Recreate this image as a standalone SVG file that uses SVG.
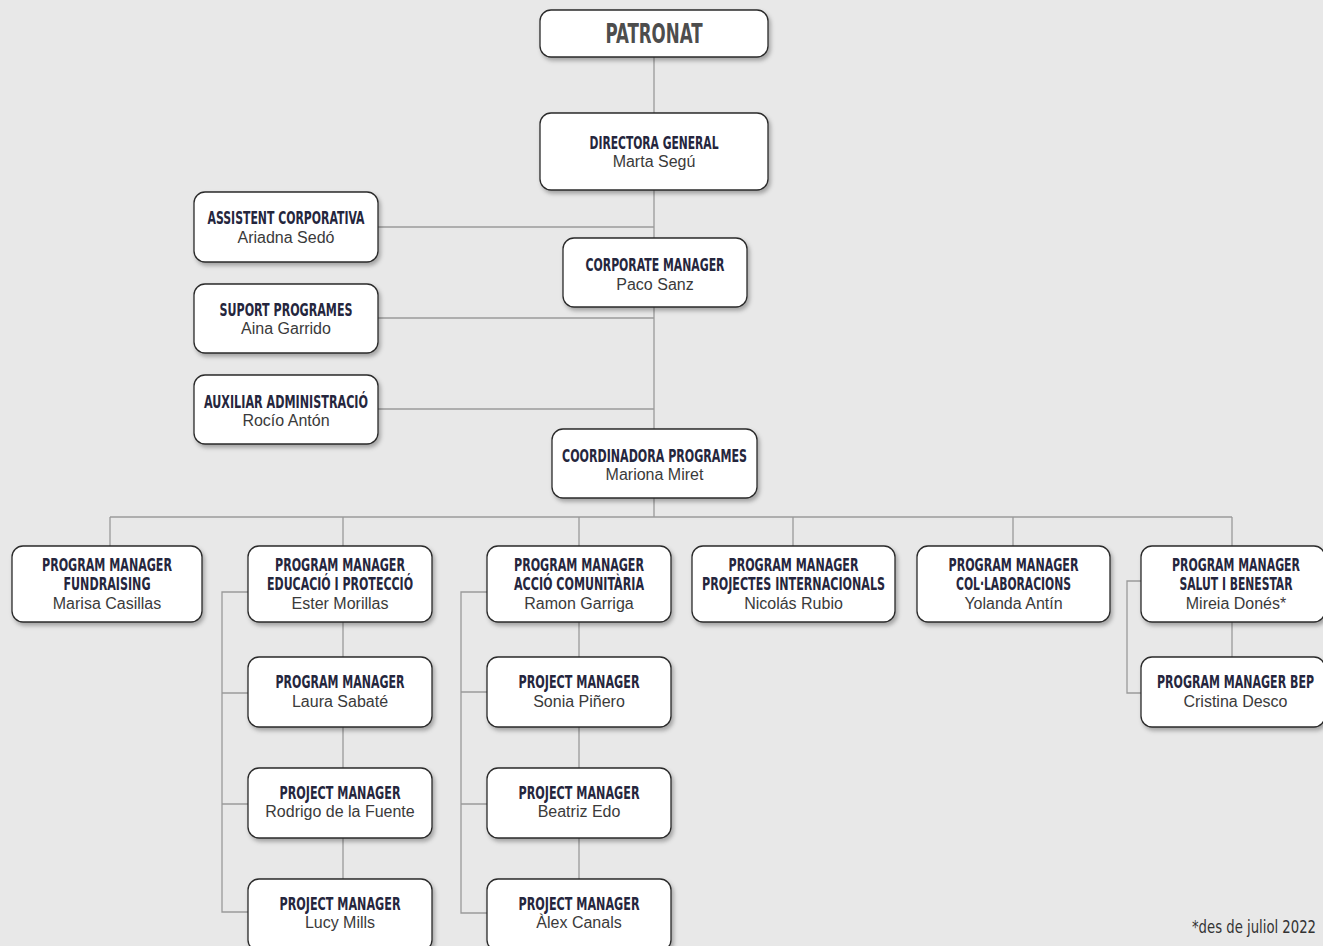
<svg xmlns="http://www.w3.org/2000/svg" width="1323" height="946" viewBox="0 0 1323 946">
<defs>
<filter id="sh" x="-10%" y="-10%" width="125%" height="140%">
<feDropShadow dx="2" dy="3" stdDeviation="2.2" flood-color="#000" flood-opacity="0.3"/>
</filter>
<style>
.box{fill:#fff;stroke:#2a2a2a;stroke-width:1.3;filter:url(#sh)}
.h{font-family:'DejaVu Sans Condensed','DejaVu Sans',sans-serif;font-stretch:condensed;font-weight:bold;font-size:18px;fill:#25263d;text-anchor:middle}
.n{font-family:'Liberation Sans',Arial,sans-serif;font-size:16px;fill:#3a3a3a;text-anchor:middle}
.ln{fill:none;stroke:#9a9a9a;stroke-width:1.3}
.ft{font-family:'DejaVu Sans Condensed','DejaVu Sans',sans-serif;font-stretch:condensed;font-size:18px;fill:#333;text-anchor:end}
</style>
</defs>
<rect width="1323" height="946" fill="#e8e8e8"/>
<g id="connectors" class="ln">
<path d="M654 57V113M654 190V517"/>
<path d="M378 227H654M378 318H654M378 409H654"/>
<path d="M110 517H1232M110 517V546M343 517V546M579 517V546M793 517V546M1013 517V546M1232 517V546"/>
<path d="M343 622V879M579 622V879M1232 622V657"/>
<path d="M248 592H222V912H248M222 693H248M222 804H248"/>
<path d="M487 592H461V913H487M461 692H487M461 804H487"/>
<path d="M1141 581H1127V693H1141"/>
</g>
<g id="patronat"><rect class="box" x="540" y="10" width="228" height="47" rx="11"/><text class="h" x="654" y="43" style="font-size:27px;fill:#4d4d4d" textLength="97" lengthAdjust="spacingAndGlyphs">PATRONAT</text></g>
<g id="directora"><rect class="box" x="540" y="113" width="228" height="77" rx="11"/><text class="h" x="654" y="149" textLength="129" lengthAdjust="spacingAndGlyphs">DIRECTORA GENERAL</text><text class="n" x="654" y="167">Marta Segú</text></g>
<g id="assistent"><rect class="box" x="194" y="192" width="184" height="70" rx="11"/><text class="h" x="286" y="224" textLength="157" lengthAdjust="spacingAndGlyphs">ASSISTENT CORPORATIVA</text><text class="n" x="286" y="243">Ariadna Sedó</text></g>
<g id="corporate"><rect class="box" x="563" y="238" width="184" height="69" rx="11"/><text class="h" x="655" y="271" textLength="139" lengthAdjust="spacingAndGlyphs">CORPORATE MANAGER</text><text class="n" x="655" y="290">Paco Sanz</text></g>
<g id="suport"><rect class="box" x="194" y="284" width="184" height="69" rx="11"/><text class="h" x="286" y="316" textLength="133" lengthAdjust="spacingAndGlyphs">SUPORT PROGRAMES</text><text class="n" x="286" y="334">Aina Garrido</text></g>
<g id="auxiliar"><rect class="box" x="194" y="375" width="184" height="69" rx="11"/><text class="h" x="286" y="408" textLength="164" lengthAdjust="spacingAndGlyphs">AUXILIAR ADMINISTRACIÓ</text><text class="n" x="286" y="426">Rocío Antón</text></g>
<g id="coordinadora"><rect class="box" x="552" y="429" width="205" height="69" rx="11"/><text class="h" x="654.5" y="462" textLength="185" lengthAdjust="spacingAndGlyphs">COORDINADORA PROGRAMES</text><text class="n" x="654.5" y="480">Mariona Miret</text></g>
<g id="fundraising"><rect class="box" x="12" y="546" width="190" height="76" rx="11"/><text class="h" x="107" y="571" textLength="130" lengthAdjust="spacingAndGlyphs">PROGRAM MANAGER</text><text class="h" x="107" y="590" textLength="87" lengthAdjust="spacingAndGlyphs">FUNDRAISING</text><text class="n" x="107" y="609">Marisa Casillas</text></g>
<g id="educacio"><rect class="box" x="248" y="546" width="184" height="76" rx="11"/><text class="h" x="340" y="571" textLength="130" lengthAdjust="spacingAndGlyphs">PROGRAM MANAGER</text><text class="h" x="340" y="590" textLength="146" lengthAdjust="spacingAndGlyphs">EDUCACIÓ I PROTECCIÓ</text><text class="n" x="340" y="609">Ester Morillas</text></g>
<g id="accio"><rect class="box" x="487" y="546" width="184" height="76" rx="11"/><text class="h" x="579" y="571" textLength="130" lengthAdjust="spacingAndGlyphs">PROGRAM MANAGER</text><text class="h" x="579" y="590" textLength="130" lengthAdjust="spacingAndGlyphs">ACCIÓ COMUNITÀRIA</text><text class="n" x="579" y="609">Ramon Garriga</text></g>
<g id="projectes"><rect class="box" x="692" y="546" width="203" height="76" rx="11"/><text class="h" x="793.5" y="571" textLength="130" lengthAdjust="spacingAndGlyphs">PROGRAM MANAGER</text><text class="h" x="793.5" y="590" textLength="183" lengthAdjust="spacingAndGlyphs">PROJECTES INTERNACIONALS</text><text class="n" x="793.5" y="609">Nicolás Rubio</text></g>
<g id="collaboracions"><rect class="box" x="917" y="546" width="193" height="76" rx="11"/><text class="h" x="1013.5" y="571" textLength="130" lengthAdjust="spacingAndGlyphs">PROGRAM MANAGER</text><text class="h" x="1013.5" y="590" textLength="115" lengthAdjust="spacingAndGlyphs">COL·LABORACIONS</text><text class="n" x="1013.5" y="609">Yolanda Antín</text></g>
<g id="salut"><rect class="box" x="1141" y="546" width="184" height="76" rx="11"/><text class="h" x="1236" y="571" textLength="128" lengthAdjust="spacingAndGlyphs">PROGRAM MANAGER</text><text class="h" x="1236" y="590" textLength="113" lengthAdjust="spacingAndGlyphs">SALUT I BENESTAR</text><text class="n" x="1236" y="609">Mireia Donés*</text></g>
<g id="laura"><rect class="box" x="248" y="657" width="184" height="70" rx="11"/><text class="h" x="340" y="688" textLength="129" lengthAdjust="spacingAndGlyphs">PROGRAM MANAGER</text><text class="n" x="340" y="707">Laura Sabaté</text></g>
<g id="rodrigo"><rect class="box" x="248" y="768" width="184" height="70" rx="11"/><text class="h" x="340" y="799" textLength="121" lengthAdjust="spacingAndGlyphs">PROJECT MANAGER</text><text class="n" x="340" y="817">Rodrigo de la Fuente</text></g>
<g id="lucy"><rect class="box" x="248" y="879" width="184" height="72" rx="11"/><text class="h" x="340" y="910" textLength="121" lengthAdjust="spacingAndGlyphs">PROJECT MANAGER</text><text class="n" x="340" y="928">Lucy Mills</text></g>
<g id="sonia"><rect class="box" x="487" y="657" width="184" height="70" rx="11"/><text class="h" x="579" y="688" textLength="121" lengthAdjust="spacingAndGlyphs">PROJECT MANAGER</text><text class="n" x="579" y="707">Sonia Piñero</text></g>
<g id="beatriz"><rect class="box" x="487" y="768" width="184" height="70" rx="11"/><text class="h" x="579" y="799" textLength="121" lengthAdjust="spacingAndGlyphs">PROJECT MANAGER</text><text class="n" x="579" y="817">Beatriz Edo</text></g>
<g id="alex"><rect class="box" x="487" y="879" width="184" height="72" rx="11"/><text class="h" x="579" y="910" textLength="121" lengthAdjust="spacingAndGlyphs">PROJECT MANAGER</text><text class="n" x="579" y="928">Àlex Canals</text></g>
<g id="bep"><rect class="box" x="1141" y="657" width="184" height="70" rx="11"/><text class="h" x="1235.5" y="688" textLength="157" lengthAdjust="spacingAndGlyphs">PROGRAM MANAGER BEP</text><text class="n" x="1235.5" y="707">Cristina Desco</text></g>
<text class="ft" x="1316" y="933" textLength="124" lengthAdjust="spacingAndGlyphs">*des de juliol 2022</text>
</svg>
